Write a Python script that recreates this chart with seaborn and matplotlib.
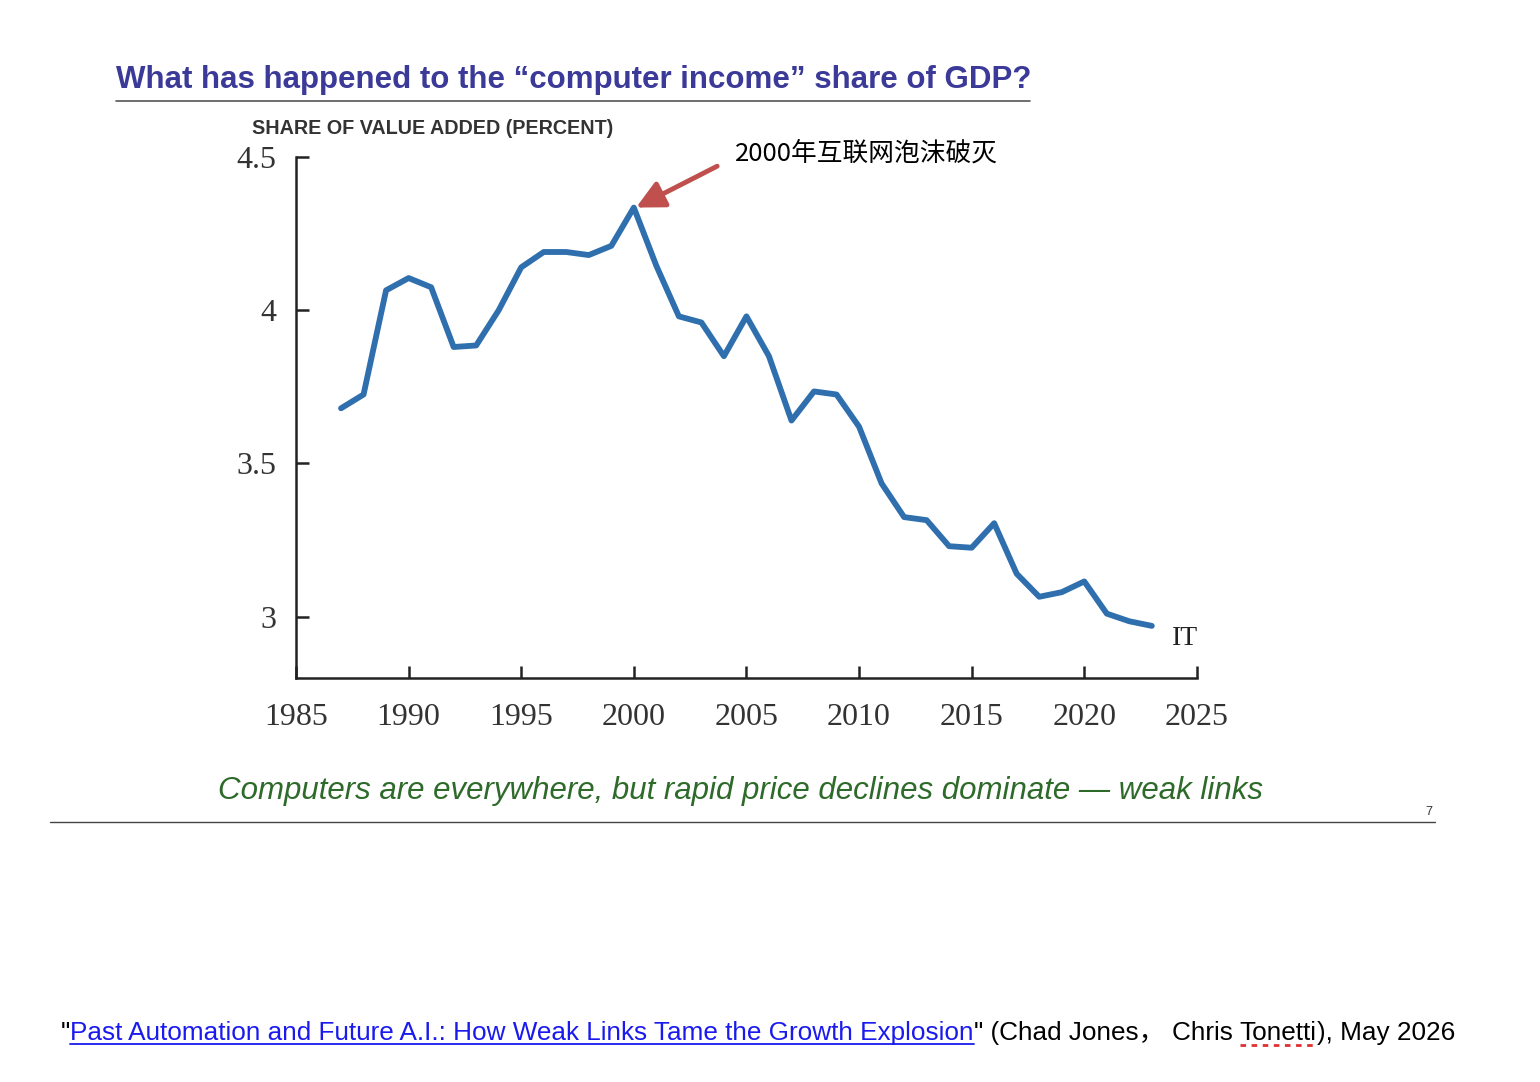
import matplotlib
matplotlib.use('Agg')
import matplotlib.pyplot as plt
import seaborn as sns
import pandas as pd
from matplotlib.lines import Line2D

years = list(range(1987, 2024))
it_share = [3.68, 3.725, 4.065, 4.105, 4.075, 3.88, 3.885, 4.0, 4.14, 4.19,
            4.19, 4.18, 4.21, 4.335, 4.145, 3.98, 3.96, 3.85, 3.98, 3.85,
            3.64, 3.735, 3.725, 3.62, 3.435, 3.325, 3.315, 3.23, 3.225, 3.305,
            3.14, 3.065, 3.08, 3.115, 3.01, 2.985, 2.97]
x_ticks = [1985, 1990, 1995, 2000, 2005, 2010, 2015, 2020, 2025]
y_ticks = [3, 3.5, 4, 4.5]
y_labels = ['3', '3.5', '4', '4.5']

df = pd.DataFrame({'year': years, 'share': it_share})

sns.set_theme(style='ticks')
plt.rcParams['font.family'] = ['Liberation Sans', 'Noto Sans CJK SC', 'DejaVu Sans']

fig = plt.figure(figsize=(15.4, 10.82), dpi=100)
ax = fig.add_axes([0.1922, 0.3734, 0.585, 0.4815])
sns.lineplot(data=df, x='year', y='share', ax=ax, color='#2f6fae', linewidth=4.2)
ax.set_xlim(1985, 2025)
ax.set_ylim(2.80, 4.5)
ax.set_xticks(x_ticks)
ax.set_xticklabels([str(t) for t in x_ticks], family='Liberation Serif', fontsize=23, color='#333333')
ax.set_yticks(y_ticks)
ax.set_yticklabels(y_labels, family='Liberation Serif', fontsize=23, color='#333333')
ax.tick_params(axis='both', direction='in', length=9, width=1.8, color='#222222', pad=14,
               bottom=True, left=True)
ax.tick_params(axis='x', pad=18)
for s in ['top', 'right']:
    ax.spines[s].set_visible(False)
for s in ['left', 'bottom']:
    ax.spines[s].set_color('#222222')
    ax.spines[s].set_linewidth(1.8)
ax.set_xlabel('')
ax.set_ylabel('')
ax.text(2023.9, 2.97, 'IT', family='Liberation Serif', fontsize=20, va='top', ha='left', color='#222222')

ax.annotate('', xy=(2000.1, 4.335), xytext=(2003.7, 4.47),
            arrowprops=dict(arrowstyle='-|>,head_length=1.4,head_width=0.7', color='#c0504d', lw=3.5,
                            shrinkA=0, shrinkB=0))
fig.text(735 / 1540, 1 - 154 / 1082, '2000年互联网泡沫破灭', family=['Noto Sans CJK SC', 'DejaVu Sans'],
         fontsize=18.5, va='center', ha='left', color='black')

fig.text(116 / 1540, 1 - 80 / 1082, 'What has happened to the \u201ccomputer income\u201d share of GDP?',
         fontsize=22.5, fontweight='bold', color='#3b3a98', va='center', ha='left')
fig.add_artist(Line2D([116 / 1540, 1030 / 1540], [1 - 101 / 1082] * 2, color='#555555', lw=1.2))
fig.text(252 / 1540, 1 - 129 / 1082, 'SHARE OF VALUE ADDED (PERCENT)', fontsize=14.2,
         fontweight='bold', color='#333333', va='center', ha='left')

fig.text(740 / 1540, 1 - 791 / 1082, 'Computers are everywhere, but rapid price declines dominate \u2014 weak links',
         fontsize=22.5, style='italic', color='#2e6a2a', va='center', ha='center')
fig.add_artist(Line2D([50 / 1540, 1435 / 1540], [1 - 822 / 1082] * 2, color='#444444', lw=1))
fig.text(1429 / 1540, 1 - 812 / 1082, '7', fontsize=9, color='#333333', va='center', ha='center')

# citation line built from pieces
pieces = [('"', 'black', False),
          ('Past Automation and Future A.I.: How Weak Links Tame the Growth Explosion', '#1a1aee', True),
          ('" (Chad Jones\uff0c Chris ', 'black', False),
          ('Tonetti', 'black', 'dots'),
          ('), May 2026', 'black', False)]
renderer = fig.canvas.get_renderer()
x0 = 61
ybase = 1 - 1040 / 1082
for txt, col, ul in pieces:
    t = fig.text(x0 / 1540, ybase, txt, fontsize=18.8, color=col, va='baseline', ha='left',
                 family=['Liberation Sans', 'Noto Sans CJK SC', 'DejaVu Sans'])
    bb = t.get_window_extent(renderer)
    if ul is True:
        fig.add_artist(Line2D([bb.x0 / 1540, bb.x1 / 1540], [ybase - 4 / 1082] * 2, color=col, lw=1.3))
    elif ul == 'dots':
        fig.add_artist(Line2D([bb.x0 / 1540, bb.x1 / 1540], [ybase - 5 / 1082] * 2, color='#e03030',
                              lw=2, linestyle=(0, (2, 2))))
    x0 = bb.x1

fig.savefig('out.png', dpi=100, facecolor='white')
